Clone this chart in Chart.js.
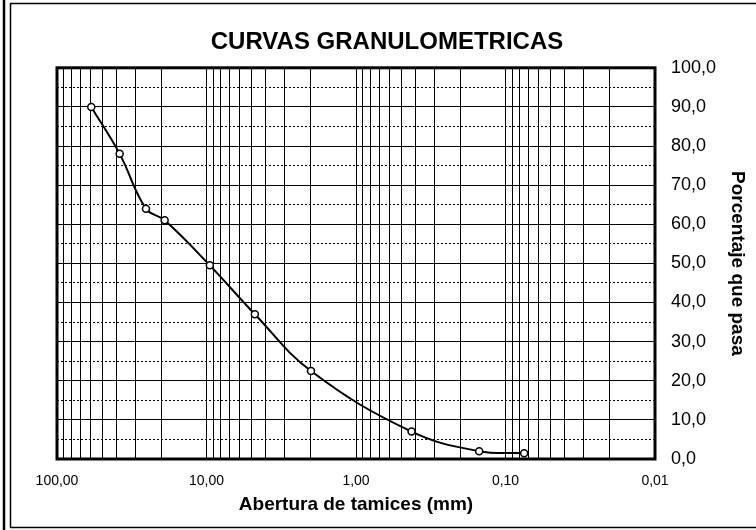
<!DOCTYPE html>
<html>
<head>
<meta charset="utf-8">
<script src="https://cdn.jsdelivr.net/npm/chart.js@4/dist/chart.umd.min.js"></script>
<style>
  body { margin: 0; background: #fff; }
</style>
</head>
<body>
<canvas id="myChart" width="756" height="530"></canvas>
<script>
// sieve openings (mm) and percent passing
const sieveSizes = [59, 38.1, 25.4, 19.05, 9.5, 4.75, 2.0, 0.425, 0.15, 0.075];
const percentPassing = [90, 78, 64, 61, 49.5, 37, 22.5, 7, 2, 1.5];

// log grid: every 1..9 step inside each decade
const gridDecades = [0.01, 0.1, 1, 10];
const gridSteps = [1, 2, 3, 4, 5, 6, 7, 8, 9];
const xMin = 0.01;
const xMax = 100;
const yMin = 0;
const yMax = 100;
const yStep = 5;

const gridValues = [];
gridDecades.forEach(d => gridSteps.forEach(s => gridValues.push(+(d * s).toPrecision(6))));
gridValues.push(xMax);

const isDecade = (v) => Math.abs(Math.log10(v) - Math.round(Math.log10(v))) < 1e-9;
const comma = (v, dp) => v.toFixed(dp).replace('.', ',');

const frame = {
  id: 'frame',
  beforeDraw(chart) {
    const { ctx, width, height } = chart;
    ctx.save();
    ctx.fillStyle = '#fff';
    ctx.fillRect(0, 0, width, height);
    ctx.strokeStyle = '#000';
    ctx.lineWidth = 2.5;
    ctx.beginPath();
    ctx.moveTo(4, 0); ctx.lineTo(4, height);
    ctx.stroke();
    ctx.lineWidth = 1.5;
    ctx.beginPath();
    ctx.moveTo(10.5, 3); ctx.lineTo(10.5, height - 2);
    ctx.moveTo(10, 3.5); ctx.lineTo(width, 3.5);
    ctx.moveTo(10, height - 2.5); ctx.lineTo(width, height - 2.5);
    ctx.stroke();
    ctx.restore();
  },
  afterDatasetsDraw(chart) {
    const { ctx, chartArea: { left, top, right, bottom } } = chart;
    ctx.save();
    ctx.strokeStyle = '#000';
    ctx.lineWidth = 3;
    ctx.strokeRect(left, top, right - left, bottom - top);
    ctx.restore();
  }
};

const ctx = document.getElementById('myChart').getContext('2d');

const config = {
  type: 'line',
  data: {
    datasets: [{
      data: sieveSizes.map((s, i) => ({ x: s, y: percentPassing[i] })),
      xAxisID: 'x',
      yAxisID: 'y',
      borderColor: '#000',
      borderWidth: 2,
      tension: 0.4,
      pointRadius: 3.5,
      pointBackgroundColor: '#fff',
      pointBorderColor: '#000',
      pointBorderWidth: 1.5,
      clip: false,
    }]
  },
  options: {
    responsive: false,
    animation: false,
    layout: {
      padding: { left: 18, right: 0, top: 0, bottom: 0 }
    },
    scales: {
      x: {
        type: 'logarithmic',
        reverse: true,
        min: xMin,
        max: xMax,
        afterBuildTicks(scale) {
          scale.ticks = gridValues.map(v => ({ value: v, major: isDecade(v) }));
        },
        afterFit(scale) {
          scale.height = 71;
        },
        grid: {
          color: '#000',
          lineWidth: 1,
          drawTicks: false,
        },
        border: { display: false },
        ticks: {
          autoSkip: false,
          maxRotation: 0,
          padding: 14,
          color: '#000',
          font: { family: 'Liberation Sans, Arial', size: 14 },
          callback: (value) => isDecade(value) ? comma(value, 2) : ''
        },
        title: {
          display: true,
          text: 'Abertura de tamices (mm)',
          color: '#000',
          font: { family: 'Liberation Sans, Arial', size: 19, weight: 'bold' },
          padding: { top: 0, bottom: 14 }
        }
      },
      yLeft: {
        position: 'left',
        display: true,
        afterFit(scale) {
          scale.width = 39;
        },
        grid: { display: false },
        border: { display: false },
        ticks: { display: false }
      },
      y: {
        position: 'right',
        min: yMin,
        max: yMax,
        afterFit(scale) {
          scale.width = 101;
        },
        grid: {
          color: '#000',
          lineWidth: 1,
          drawTicks: false,
        },
        border: {
          display: false,
          dash: (c) => (c.tick && c.tick.value % 10 !== 0) ? [2, 2] : []
        },
        ticks: {
          stepSize: yStep,
          autoSkip: false,
          padding: 16,
          color: '#000',
          font: { family: 'Liberation Sans, Arial', size: 18 },
          callback: (value) => value % 10 === 0 ? comma(value, 1) : ''
        },
        title: {
          display: true,
          text: 'Porcentaje que pasa',
          color: '#000',
          font: { family: 'Liberation Sans, Arial', size: 19, weight: 'bold' },
          padding: { top: 7, bottom: 0 }
        }
      }
    },
    plugins: {
      legend: { display: false },
      tooltip: { enabled: false },
      title: {
        display: true,
        text: 'CURVAS GRANULOMETRICAS',
        color: '#000',
        font: { family: 'Liberation Sans, Arial', size: 24, weight: 'bold' },
        padding: { top: 28, bottom: 11 }
      }
    }
  },
  plugins: [frame]
};

new Chart(ctx, config);
</script>
</body>
</html>
